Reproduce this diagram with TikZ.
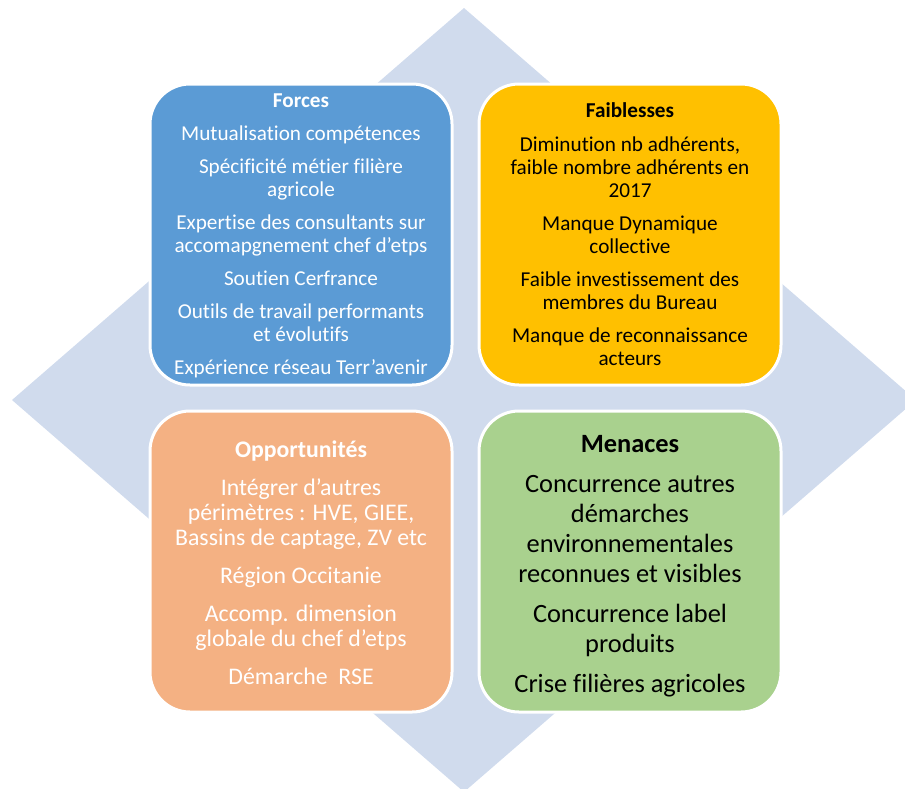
\documentclass[tikz,border=0pt]{standalone}
\usepackage{fontspec}
\setmainfont[Ligatures={NoCommon}]{Carlito}
\definecolor{diamondcol}{HTML}{D0DBED}
\definecolor{forcescol}{HTML}{5B9BD5}
\definecolor{faibcol}{HTML}{FFC000}
\definecolor{oppcol}{HTML}{F4B183}
\definecolor{mencol}{HTML}{A9D18E}
\begin{document}
\begin{tikzpicture}[x=1pt,y=-1pt,
  swot/.style={draw=white, line width=3pt, rounded corners=40pt,
    minimum width=302pt, minimum height=301pt, inner sep=0pt},
  swottext/.style={align=center, inner sep=0pt}]
\useasboundingbox (0,0) rectangle (905,788);
\begin{scope}
\clip (0,0) rectangle (905,788);
\fill[diamondcol] (464,8) -- (916,400) -- (464,792) -- (12,400) -- cycle;
\end{scope}
\node[swot, fill=forcescol] (forces) at (301,234.5) {};
\node[swot, fill=faibcol] (faiblesses) at (630,234.5) {};
\node[swot, fill=oppcol] (opportunites) at (301,561.5) {};
\node[swot, fill=mencol] (menaces) at (630,561.5) {};
\node[swottext, text=white, font=\fontsize{21.2}{23}\selectfont] (forcestext) at ([yshift=-1.5pt]forces.center)
{\textbf{Forces}\\[10pt]
Mutualisation compétences\\[10pt]
Spécificité métier filière\\ agricole\\[10pt]
Expertise des consultants sur\\ accomapgnement chef d’etps\\[10pt]
Soutien Cerfrance\\[10pt]
Outils de travail performants\\ et évolutifs\\[10pt]
Expérience réseau Terr’avenir};
\node[swottext, text=black, font=\fontsize{21.2}{23}\selectfont] (faiblessestext) at (faiblesses.center)
{\textbf{Faiblesses}\\[11pt]
Diminution nb adhérents,\\ faible nombre adhérents en\\ 2017\\[10pt]
Manque Dynamique\\ collective\\[10pt]
Faible investissement des\\ membres du Bureau\\[10pt]
Manque de reconnaissance\\ acteurs};
\node[swottext, text=white, font=\fontsize{23.8}{25}\selectfont] (opportunitestext) at ([yshift=-1.5pt]opportunites.center)
{\textbf{Opportunités}\\[13pt]
Intégrer d’autres\\ périmètres : HVE, GIEE,\\ Bassins de captage, ZV etc\\[13pt]
Région Occitanie\\[13pt]
Accomp. dimension\\ globale du chef d’etps\\[13pt]
Démarche\ \ RSE};
\node[swottext, text=black, font=\fontsize{26.4}{30}\selectfont] (menacestext) at ([yshift=-4.5pt]menaces.center)
{\textbf{Menaces}\\[10pt]
Concurrence autres\\ démarches\\ environnementales\\ reconnues et visibles\\[10pt]
Concurrence label\\ produits\\[10pt]
Crise filières agricoles};
\end{tikzpicture}
\end{document}
